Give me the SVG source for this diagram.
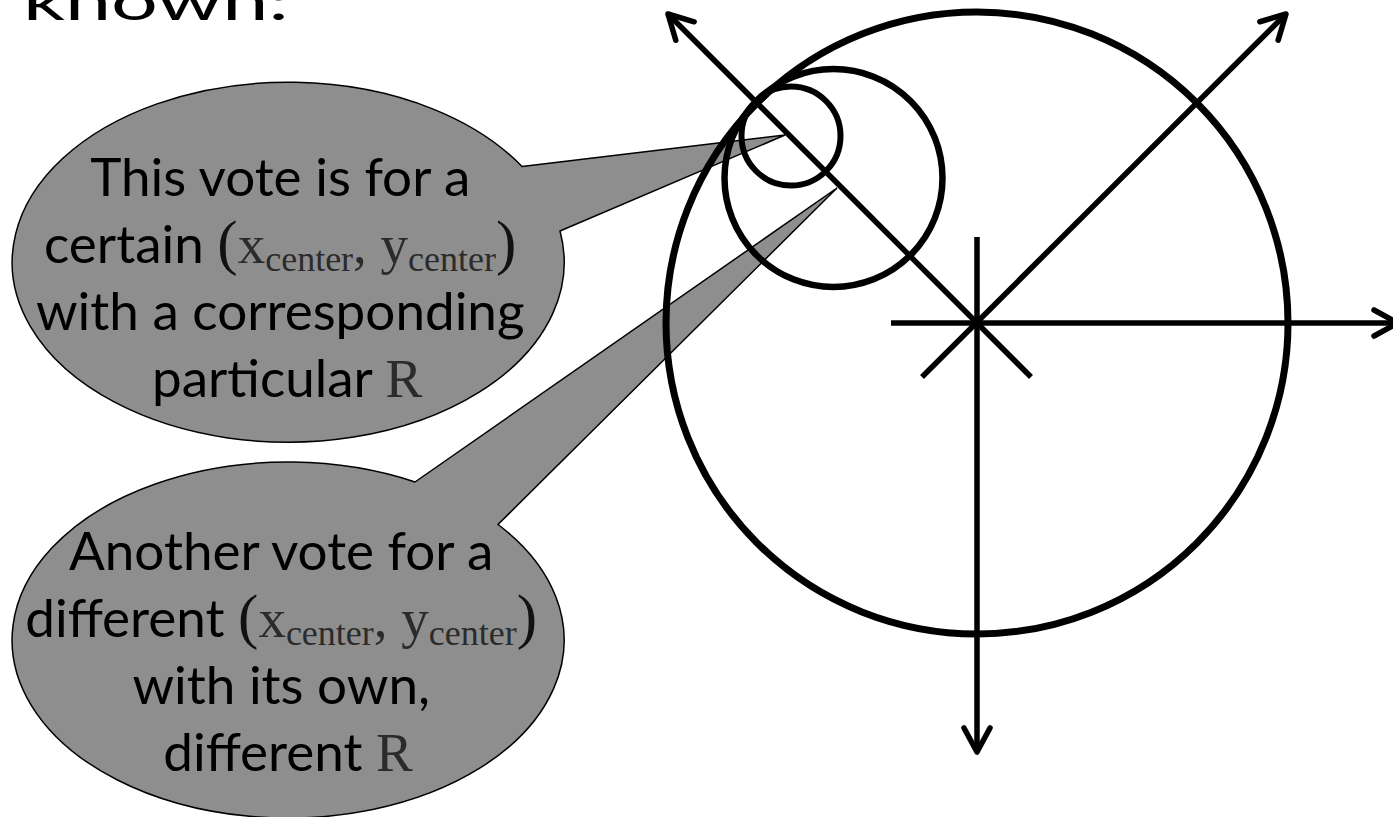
<svg xmlns="http://www.w3.org/2000/svg" width="1393" height="817" viewBox="0 0 1393 817">
  <style>
    .bubble { fill: #8e8e8e; stroke: #000; stroke-width: 1.5; }
    .sans { font-family: Lato, "Open Sans", "Liberation Sans", sans-serif; font-size: 53px; fill: #000; }
    .math { font-family: "Liberation Serif", "Times New Roman", serif; font-size: 55px; fill: #2b2b2b; }
    .sub { font-family: "Liberation Serif", "Times New Roman", serif; font-size: 36px; fill: #2b2b2b; }
    .par { font-family: "Liberation Serif", "Times New Roman", serif; font-size: 61px; fill: #111; }
    .circ { fill: none; stroke: #000; }
    .axis { fill: none; stroke: #000; stroke-width: 5.5; }
  </style>
  <defs>
    <marker id="arrow" markerUnits="userSpaceOnUse" orient="auto" refX="0" refY="0" markerWidth="40" markerHeight="40" overflow="visible">
      <path d="M-24,-13 L0,0 L-24,13" fill="none" stroke="#000" stroke-width="5.5" stroke-linecap="round" stroke-linejoin="round"/>
    </marker>
  </defs>
  <rect width="1393" height="817" fill="#fff"/>

  <text class="sans" x="23" y="20" font-size="84" textLength="266" lengthAdjust="spacingAndGlyphs">known:</text>

  <g id="callout1">
    <path class="bubble" d="M522,166.6 L785,135 L560,231 A276,180 0 1 1 522,166.6 Z"/>
    <text class="sans" text-anchor="middle">
      <tspan x="287" y="196">This vote is for a</tspan>
      <tspan x="287" y="263">certain <tspan class="par">(</tspan><tspan class="math">x</tspan><tspan class="sub" dy="8">center</tspan><tspan class="math" dy="-8">, y</tspan><tspan class="sub" dy="8">center</tspan><tspan class="par" dy="-8">)</tspan></tspan>
      <tspan x="287" y="330">with a corresponding</tspan>
      <tspan x="287" y="397">particular <tspan class="math">R</tspan></tspan>
    </text>
  </g>

  <g id="callout2">
    <path class="bubble" d="M415,482 L837,188 L498,524.5 A276,178 0 1 1 415,482 Z"/>
    <text class="sans" text-anchor="middle">
      <tspan x="288" y="570">Another vote for a</tspan>
      <tspan x="288" y="637">different <tspan class="par">(</tspan><tspan class="math">x</tspan><tspan class="sub" dy="8">center</tspan><tspan class="math" dy="-8">, y</tspan><tspan class="sub" dy="8">center</tspan><tspan class="par" dy="-8">)</tspan></tspan>
      <tspan x="288" y="704">with its own,</tspan>
      <tspan x="288" y="771">different <tspan class="math">R</tspan></tspan>
    </text>
  </g>

  <g id="circles">
    <circle class="circ" cx="977" cy="323" r="311" stroke-width="7"/>
    <circle class="circ" cx="833.5" cy="178" r="109" stroke-width="6.5"/>
    <circle class="circ" cx="791" cy="136" r="49.5" stroke-width="6"/>
  </g>

  <g id="connectors">
    <line class="axis" x1="1031" y1="377" x2="668" y2="14" marker-end="url(#arrow)"/>
    <line class="axis" x1="922" y1="377" x2="1286" y2="14" marker-end="url(#arrow)"/>
    <line class="axis" x1="891" y1="323" x2="1398" y2="323" marker-end="url(#arrow)"/>
    <line class="axis" x1="977" y1="237" x2="977" y2="752" marker-end="url(#arrow)"/>
  </g>
</svg>
